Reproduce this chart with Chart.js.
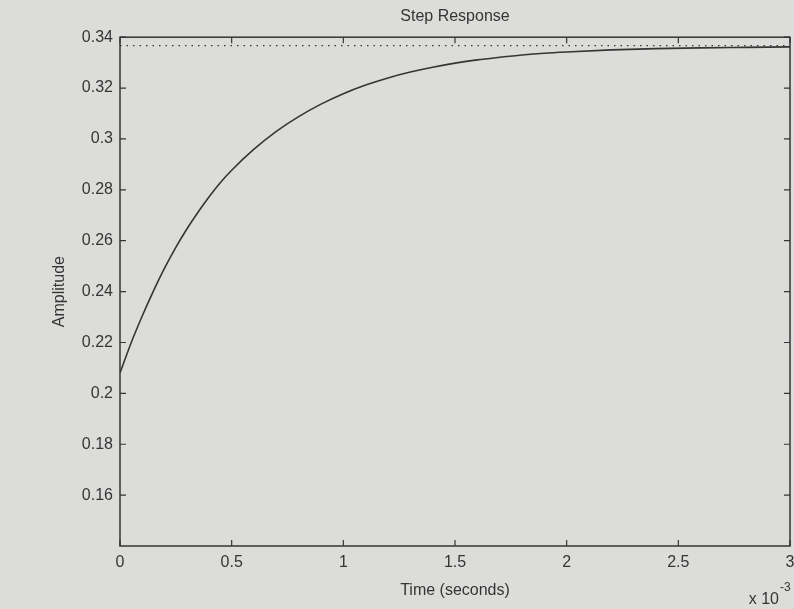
<!DOCTYPE html>
<html>
<head>
<meta charset="utf-8">
<script src="https://cdn.jsdelivr.net/npm/chart.js@4/dist/chart.umd.min.js"></script>
<style>
  body { margin: 0; background: #dcdcda; }
  canvas { display: block; }
</style>
</head>
<body>
<canvas id="chart" width="794" height="609"></canvas>
<script>
// time in ms (axis shows x10^-3 seconds)
const timeMs = [0, 0.05, 0.1, 0.15, 0.2, 0.25, 0.3, 0.35, 0.4, 0.45, 0.5, 0.6, 0.7, 0.8, 0.9, 1.0,
    1.1, 1.2, 1.3, 1.4, 1.5, 1.6, 1.7, 1.8, 1.9, 2.0, 2.2, 2.4, 2.6, 2.8, 3.0];
const amplitude = [0.208, 0.2199, 0.2305, 0.2403, 0.2493, 0.2574, 0.2647, 0.2713, 0.2774, 0.2829, 0.2877,
    0.296, 0.303, 0.3088, 0.3137, 0.3178, 0.3212, 0.324, 0.3263, 0.3282, 0.3298, 0.3311, 0.3321,
    0.333, 0.3337, 0.3342, 0.335, 0.3355, 0.3358, 0.336, 0.3362];
const steadyState = 0.3367;
const steadyRange = [0, 3];

const xTicks = [0, 0.5, 1, 1.5, 2, 2.5, 3];
const yTicks = [0.16, 0.18, 0.2, 0.22, 0.24, 0.26, 0.28, 0.3, 0.32, 0.34];

const INK = "#353535";
const FONT = "'Liberation Sans', Arial, sans-serif";

// matlab style box with inward ticks + the x10^-3 exponent
const boxPlugin = {
    id: "box",
    afterDatasetsDraw(chart) {
        const { ctx, chartArea: a, scales } = chart;
        const len = 6;
        ctx.save();
        ctx.strokeStyle = INK;
        ctx.lineWidth = 1.5;
        ctx.strokeRect(a.left, a.top, a.right - a.left, a.bottom - a.top);
        ctx.lineWidth = 1.2;
        ctx.beginPath();
        for (const v of xTicks) {
            const px = scales.x.getPixelForValue(v);
            ctx.moveTo(px, a.bottom); ctx.lineTo(px, a.bottom - len);
            ctx.moveTo(px, a.top); ctx.lineTo(px, a.top + len);
        }
        for (const v of yTicks) {
            const py = scales.y.getPixelForValue(v);
            ctx.moveTo(a.left, py); ctx.lineTo(a.left + len, py);
            ctx.moveTo(a.right, py); ctx.lineTo(a.right - len, py);
        }
        ctx.stroke();
        ctx.restore();
    },
    afterDraw(chart) {
        const ctx = chart.ctx;
        ctx.save();
        ctx.fillStyle = INK;
        ctx.textAlign = "right";
        ctx.textBaseline = "alphabetic";
        ctx.font = "16px " + FONT;
        ctx.fillText("x 10", 779, 604);
        ctx.textAlign = "left";
        ctx.font = "12px " + FONT;
        ctx.fillText("-3", 780, 591);
        ctx.restore();
    }
};

const fmt = (v) => {
    if (Math.abs(v - 0.14) < 1e-9) return "";
    return String(parseFloat(Number(v).toFixed(2)));
};

new Chart(document.getElementById("chart"), {
    type: "line",
    data: {
        datasets: [
            {
                data: timeMs.map((t, i) => ({ x: t, y: amplitude[i] })),
                borderColor: INK,
                borderWidth: 1.6,
                pointRadius: 0,
                cubicInterpolationMode: "monotone",
                fill: false
            },
            {
                data: steadyRange.map((t) => ({ x: t, y: steadyState })),
                borderColor: INK,
                borderWidth: 1.4,
                borderDash: [1.5, 5],
                pointRadius: 0,
                fill: false
            }
        ]
    },
    options: {
        responsive: false,
        animation: false,
        layout: { padding: { left: 0, right: 4, top: 0, bottom: 0 } },
        plugins: {
            legend: { display: false },
            tooltip: { enabled: false },
            title: {
                display: true,
                text: "Step Response",
                fullSize: false,
                color: INK,
                font: { family: FONT, size: 16, weight: "normal" },
                padding: { top: 7, bottom: 11 }
            }
        },
        scales: {
            x: {
                type: "linear",
                min: 0,
                max: 3,
                border: { display: false },
                grid: { display: false, drawTicks: false },
                afterBuildTicks: (scale) => { scale.ticks = xTicks.map((v) => ({ value: v })); },
                afterFit: (scale) => { scale.height = 63; scale.paddingRight = 0; },
                ticks: {
                    color: INK,
                    padding: 7,
                    maxRotation: 0,
                    font: { family: FONT, size: 16 },
                    callback: (v) => String(v)
                },
                title: {
                    display: true,
                    text: "Time (seconds)",
                    color: INK,
                    font: { family: FONT, size: 16 },
                    padding: { top: 0, bottom: 9 }
                }
            },
            y: {
                min: 0.14,
                max: 0.34,
                border: { display: false },
                grid: { display: false, drawTicks: false },
                afterBuildTicks: (scale) => { scale.ticks = [0.14].concat(yTicks).map((v) => ({ value: v })); },
                afterFit: (scale) => { scale.width = 120; },
                ticks: {
                    color: INK,
                    padding: 7,
                    font: { family: FONT, size: 16 },
                    callback: fmt
                },
                title: {
                    display: true,
                    text: "Amplitude",
                    color: INK,
                    font: { family: FONT, size: 16 },
                    padding: { top: 50, bottom: 0 }
                }
            }
        }
    },
    plugins: [boxPlugin]
});
</script>
</body>
</html>
